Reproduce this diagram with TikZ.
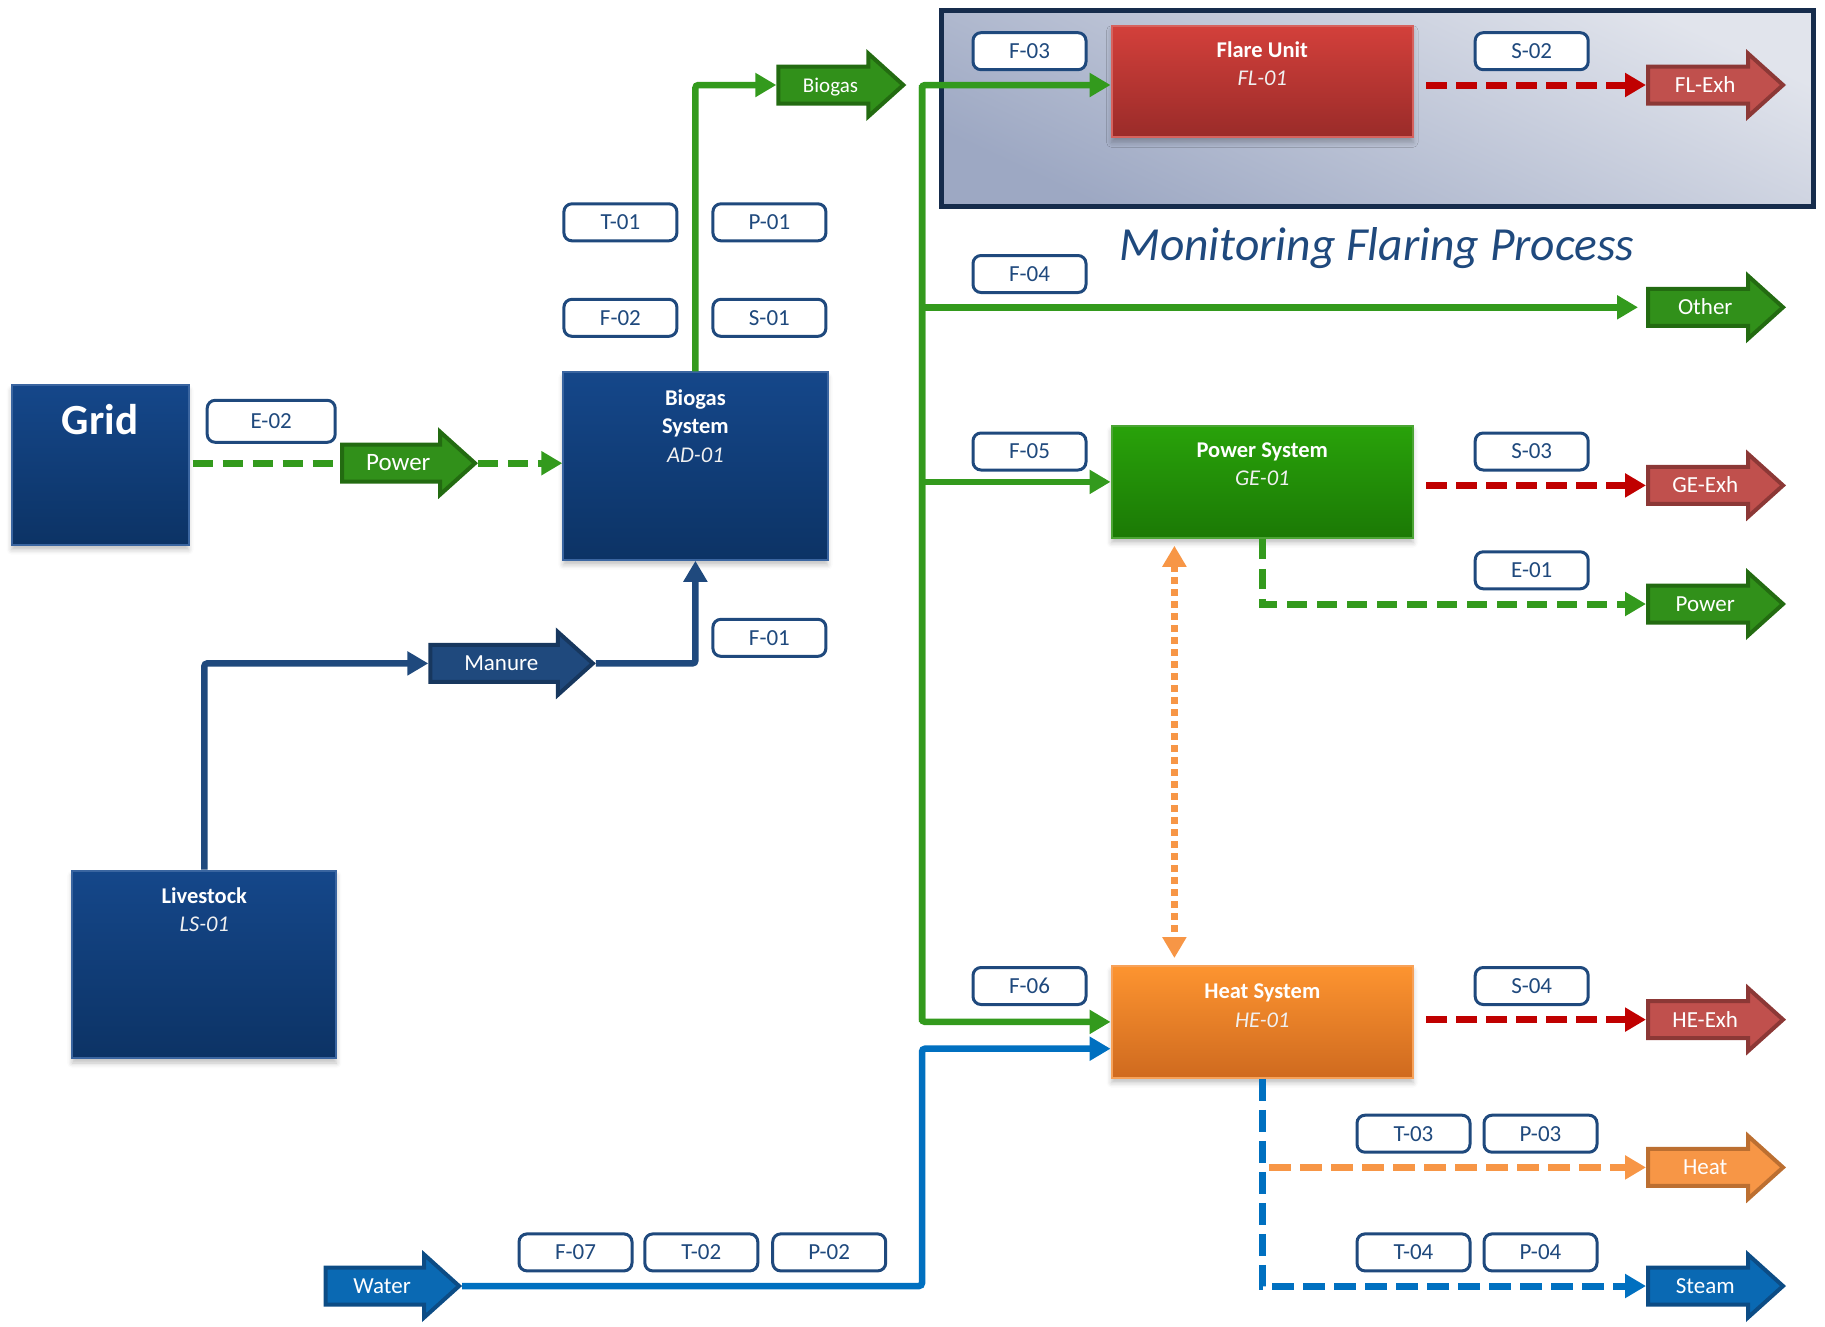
\documentclass[tikz,border=0pt]{standalone}
\usepackage{fontspec}
\setmainfont{Carlito}
\usetikzlibrary{arrows.meta,shapes.arrows,shadows.blur}

\definecolor{navy}{HTML}{1F497D}
\definecolor{navyTop}{HTML}{15478A}
\definecolor{navyBot}{HTML}{0C3365}
\definecolor{navyEdge}{HTML}{3A65A0}
\definecolor{flareTop}{HTML}{D3403B}
\definecolor{flareBot}{HTML}{9A2B29}
\definecolor{flareEdge}{HTML}{D6625E}
\definecolor{genTop}{HTML}{29A20A}
\definecolor{genBot}{HTML}{1B7905}
\definecolor{genEdge}{HTML}{4CA535}
\definecolor{heatTop}{HTML}{FD9430}
\definecolor{heatBot}{HTML}{CF6A1F}
\definecolor{heatEdge}{HTML}{F7A25A}
\definecolor{flowGreen}{HTML}{339A1D}
\definecolor{arrGreen}{HTML}{31901A}
\definecolor{arrGreenEdge}{HTML}{236B11}
\definecolor{exhRed}{HTML}{C0504D}
\definecolor{exhRedEdge}{HTML}{8C3836}
\definecolor{lineRed}{HTML}{C00000}
\definecolor{heatOrange}{HTML}{F79646}
\definecolor{heatOrangeEdge}{HTML}{BC6F31}
\definecolor{lineBlue}{HTML}{0070C0}
\definecolor{waterBlue}{HTML}{0A69B3}
\definecolor{waterEdge}{HTML}{0C4C85}
\definecolor{manureEdge}{HTML}{17375E}
\definecolor{frameEdge}{HTML}{162C4C}
\definecolor{frameLight}{HTML}{E1E4EC}
\definecolor{frameDark}{HTML}{9DA8C3}

\newcommand\fsz[1]{\fontsize{#1}{#1}\selectfont}

\tikzset{
  unitbox/.style={rectangle, inner sep=0pt, line width=2pt,
    blur shadow={shadow xshift=0pt, shadow yshift=-5pt, shadow blur radius=5pt, shadow opacity=25}},
  navybox/.style={unitbox, top color=navyTop, bottom color=navyBot, draw=navyEdge},
  flarebox/.style={unitbox, top color=flareTop, bottom color=flareBot, draw=flareEdge},
  genbox/.style={unitbox, top color=genTop, bottom color=genBot, draw=genEdge},
  heatbox/.style={unitbox, top color=heatTop, bottom color=heatBot, draw=heatEdge},
  uname/.style={anchor=base, inner sep=0pt, text=white, font=\bfseries\fsz{22.5}},
  utag/.style={anchor=base, inner sep=0pt, text=white!94!black, font=\itshape\fsz{22.5}},
  tagbox/.style={rectangle, rounded corners=8pt, draw=navy, line width=3pt, fill=white,
    text=navy, minimum width=113pt, minimum height=37pt, inner sep=0pt, font=\fsz{23}},
  bigarrow/.style={single arrow, anchor=tail, single arrow head extend=13pt,
    single arrow tip angle=84, text height=17pt, text depth=2pt, inner ysep=7pt,
    inner xsep=4pt, line width=4pt, text=white, font=\fsz{23}},
  garrow/.style={bigarrow, fill=arrGreen, draw=arrGreenEdge},
  rarrow/.style={bigarrow, fill=exhRed, draw=exhRedEdge},
  oarrow/.style={bigarrow, fill=heatOrange, draw=heatOrangeEdge},
  barrow/.style={bigarrow, fill=waterBlue, draw=waterEdge},
  narrow/.style={bigarrow, fill=navy, draw=manureEdge},
  tip/.style={-{Triangle[length=21pt,width=23pt]}},
  gflow/.style={draw=flowGreen, line width=6.5pt, rounded corners=3pt},
  nflow/.style={draw=navy, line width=6.5pt, rounded corners=3pt},
  bflow/.style={draw=lineBlue, line width=6.5pt, rounded corners=3pt},
  gdash/.style={draw=flowGreen, line width=7pt, dash pattern=on 20pt off 10pt},
  rdash/.style={draw=lineRed, line width=7pt, dash pattern=on 21pt off 9pt},
  odash/.style={draw=heatOrange, line width=7pt, dash pattern=on 22pt off 9pt},
  bdash/.style={draw=lineBlue, line width=7pt, dash pattern=on 22pt off 9pt},
  odots/.style={draw=heatOrange, line width=7pt, dash pattern=on 7pt off 5pt},
}

\begin{document}
\begin{tikzpicture}[x=1pt, y=-1pt]
\useasboundingbox (0,0) rectangle (1825,1326);

% ---------- monitoring frame ----------
\node (mon) [rectangle, draw=frameEdge, line width=5pt, top color=frameLight,
  bottom color=frameDark, shading angle=-25, minimum width=871.8pt,
  minimum height=195.5pt, inner sep=0pt] at (1377.5,108.25) {};
\node (montitle) [anchor=base, inner sep=0pt, text=navy, font=\itshape\fsz{47.5}]
  at (1377,260.7) {Monitoring Flaring Process};

% ---------- process units ----------
\node (grid) [navybox, minimum width=177pt, minimum height=159.4pt] at (100.1,465) {};
\node (grid-name) [uname, font=\bfseries\fsz{43}] at (100.1,434.8) {Grid};

\node (bs) [navybox, minimum width=264.2pt, minimum height=187.4pt] at (695.4,466.1) {};
\node (bs-n1) [uname] at (695.4,405) {Biogas};
\node (bs-n2) [uname] at (695.4,433.5) {System};
\node (bs-id) [utag] at (695.4,462) {AD-01};

\node (ls) [navybox, minimum width=264.2pt, minimum height=187.4pt] at (204.3,964.3) {};
\node (ls-name) [uname] at (204.3,903) {Livestock};
\node (ls-id) [utag] at (204.3,931.5) {LS-01};

\node (flare) [flarebox, minimum width=301.5pt, minimum height=111.7pt] at (1262.3,81.5) {};
\node (flare-name) [uname] at (1262.3,57) {Flare Unit};
\node (flare-id) [utag] at (1262.3,85.5) {FL-01};

\node (psys) [genbox, minimum width=301.5pt, minimum height=111.7pt] at (1262.3,481.9) {};
\node (psys-name) [uname] at (1262.3,457.4) {Power System};
\node (psys-id) [utag] at (1262.3,485.9) {GE-01};

\node (heat) [heatbox, minimum width=301.5pt, minimum height=111.7pt] at (1262.3,1021.9) {};
\node (heat-name) [uname] at (1262.3,998.6) {Heat System};
\node (heat-id) [utag] at (1262.3,1027.1) {HE-01};

% ---------- instrument tags ----------
\node (t01) [tagbox] at (620.4,222.3) {T-01};
\node (p01) [tagbox] at (769.4,222.3) {P-01};
\node (f02) [tagbox] at (620.4,317.8) {F-02};
\node (s01) [tagbox] at (769.4,317.8) {S-01};
\node (e02) [tagbox, minimum width=128pt, minimum height=42pt] at (271.2,421.3) {E-02};
\node (f01) [tagbox] at (769.4,637.8) {F-01};
\node (f03) [tagbox] at (1029.5,51.2) {F-03};
\node (s02) [tagbox] at (1531.7,51.2) {S-02};
\node (f04) [tagbox] at (1029.5,274) {F-04};
\node (f05) [tagbox] at (1029.5,451.5) {F-05};
\node (s03) [tagbox] at (1531.7,451.5) {S-03};
\node (e01) [tagbox] at (1531.7,570.3) {E-01};
\node (f06) [tagbox] at (1029.5,986) {F-06};
\node (s04) [tagbox] at (1531.7,986) {S-04};
\node (t03) [tagbox] at (1413.5,1133.7) {T-03};
\node (p03) [tagbox] at (1540.5,1133.7) {P-03};
\node (t04) [tagbox] at (1413.5,1252.4) {T-04};
\node (p04) [tagbox] at (1540.5,1252.4) {P-04};
\node (f07) [tagbox] at (575.5,1252.4) {F-07};
\node (t02) [tagbox] at (701.3,1252.4) {T-02};
\node (p02) [tagbox] at (829.2,1252.4) {P-02};

% ---------- stream arrows ----------
\node (biogasA) [garrow, minimum height=125pt, font=\fsz{21}] at (776.3,85) {Biogas};
\node (pwrin) [garrow, minimum height=133pt, font=\fsz{25}] at (340,463.2) {Power};
\node (manure) [narrow, minimum height=162.5pt] at (428.3,663.4) {Manure};
\node (water) [barrow, minimum height=133.5pt] at (323.6,1286) {Water};
\node (flexh) [rarrow, minimum height=135pt] at (1646,85) {FL-Exh};
\node (other) [garrow, minimum height=135pt] at (1646,307.3) {Other};
\node (geexh) [rarrow, minimum height=135pt] at (1646,485.4) {GE-Exh};
\node (pwrout) [garrow, minimum height=135pt] at (1646,604) {Power};
\node (heexh) [rarrow, minimum height=135pt] at (1646,1019.6) {HE-Exh};
\node (heatout) [oarrow, minimum height=135pt] at (1646,1167.4) {Heat};
\node (steam) [barrow, minimum height=135pt] at (1646,1286) {Steam};

% ---------- junction points ----------
\coordinate (trunkTop) at (922,85);
\coordinate (trunkBot) at (922,1022);
\coordinate (wTurn) at (922,1048.7);
\coordinate (dX) at (1174.4,0);

% ---------- connectors ----------
\draw[gdash, shorten <=3pt] (grid.east |- pwrin.tail) -- (pwrin.tail);
\draw[gdash, tip] (pwrin.tip) -- (bs.west |- pwrin.tip);
\draw[nflow, tip] (ls.north) |- (manure.tail);
\draw[nflow, tip] (manure.tip) -| (bs.south);
\draw[gflow, tip] (bs.north) |- (biogasA.tail);

\draw[gflow, tip] (trunkBot) -- (trunkTop) -- (flare.west |- trunkTop);
\draw[gflow, tip] (trunkTop) |- (heat.west);
\draw[gflow, tip, shorten >=8pt] (trunkTop |- other.tail) -- (other.tail);
\draw[gflow, tip] (trunkTop |- psys.west) -- (psys.west);
\draw[bflow, tip] (water.tip) -| (wTurn) -- (heat.west |- wTurn);

\draw[rdash, tip, shorten <=12pt] (flare.east |- flexh.tail) -- (flexh.tail);
\draw[rdash, tip, shorten <=12pt] (psys.east |- geexh.tail) -- (geexh.tail);
\draw[rdash, tip, shorten <=12pt] (heat.east |- heexh.tail) -- (heexh.tail);

\draw[gdash, tip] (psys.south) |- (pwrout.tail);
\draw[bdash, tip] (heat.south) |- (steam.tail);
\draw[odash, tip, shorten <=7pt] (heat.south |- heatout.tail) -- (heatout.tail);
\draw[odots, {Triangle[length=21pt,width=23pt]}-{Triangle[length=21pt,width=23pt]},
  shorten <=7pt, shorten >=7pt] (dX |- psys.south) -- (dX |- heat.north);
\end{tikzpicture}
\end{document}
